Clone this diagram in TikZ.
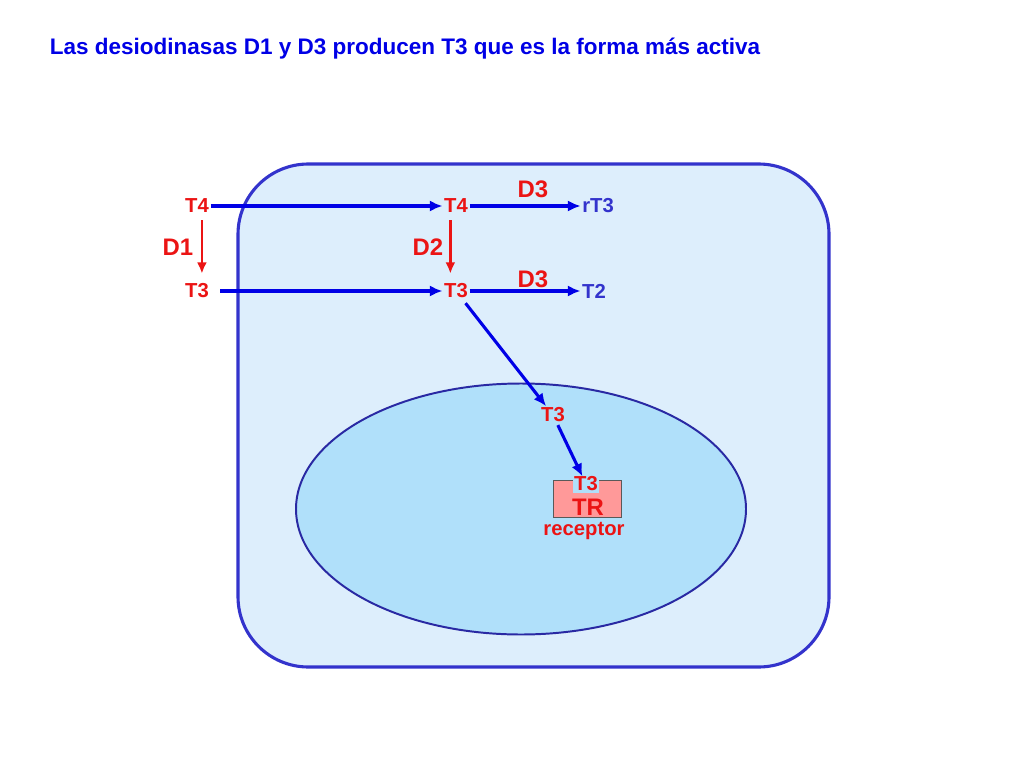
\documentclass[tikz,border=0pt]{standalone}
\usepackage{fontspec}
\setmainfont{Liberation Sans}
\usetikzlibrary{shapes, calc, arrows.meta}

\definecolor{celula}{RGB}{221,238,252}
\definecolor{nucleo}{RGB}{176,224,250}
\definecolor{borde}{RGB}{51,51,204}
\definecolor{flecha}{RGB}{0,0,230}
\definecolor{rojo}{RGB}{235,20,20}
\definecolor{rosa}{RGB}{255,153,153}

\begin{document}
\begin{tikzpicture}[x=0.025cm, y=-0.025cm,
	hormona/.style={text=rojo, font=\bfseries\fontsize{14.4}{16}\selectfont, inner sep=1pt},
	enzima/.style={text=rojo, font=\bfseries\fontsize{17}{19}\selectfont, inner sep=1pt},
	producto/.style={text=borde, font=\bfseries\fontsize{14.4}{16}\selectfont, inner sep=1pt},
	paso/.style={-{Latex[length=9pt, width=8pt]}, line width=2.2pt, draw=flecha},
	conversion/.style={-{Latex[length=8pt, width=7pt]}, line width=1.9pt, draw=rojo}]
	\useasboundingbox (0,0) rectangle (1024,768);
	
	\node[anchor=west, text=flecha, font=\bfseries\fontsize{16}{19}\selectfont] (titulo) at (45,49)
		{Las desiodinasas D1 y D3 producen T3 que es la forma más activa};
	
	\draw[borde, fill=celula, line width=2.2pt, rounded corners=50pt] (238,164) rectangle (829,667);
	\draw[borde!80!black, fill=nucleo, line width=1.4pt] (521,509) ellipse [x radius=225, y radius=125.5];
	
	\node[draw=gray!70!black, fill=rosa, minimum width=68*0.025cm, minimum height=37*0.025cm] (caja) at (587,498.5) {};
	
	\node[hormona] (t4a) at (197,206) {T4};
	\node[hormona] (t4b) at (456,206) {T4};
	\node[producto] (rt3) at (598,206) {rT3};
	\node[hormona] (t3a) at (197,291) {T3};
	\node[hormona] (t3b) at (456,291) {T3};
	\node[producto] (t2) at (594,291) {T2};
	\node[hormona] (t3c) at (553,415) {T3};
	\node[hormona, fill=nucleo] (t3d) at (586,484) {T3};
	\node[enzima] (tr) at (588,507) {TR};
	\node[hormona] (rec) at (584,531) {receptor};
	
	\node[enzima] (d1) at (178,247) {D1};
	\node[enzima] (d2) at (428,247) {D2};
	\node[enzima] (d3a) at (533,189) {D3};
	\node[enzima] (d3b) at (533,279) {D3};
	
	\draw[paso] (t4a) -- (t4b);
	\draw[paso] (t4b) -- (rt3);
	\draw[paso, shorten <=7pt] (t3a) -- (t3b);
	\draw[paso] (t3b) -- (t2);
	\draw[paso, shorten <=3pt] (t3b) -- (t3c);
	\draw[paso, shorten <=1pt, shorten >=-1pt] (t3c) -- (t3d);
	\draw[conversion, shorten <=4pt, shorten >=6pt] ([xshift=3.5pt]t4a.south) -- ([xshift=3.5pt]t3a.north);
	\draw[conversion, shorten <=4pt, shorten >=6pt] ([xshift=-4pt]t4b.south) -- ([xshift=-4pt]t3b.north);
\end{tikzpicture}
\end{document}
